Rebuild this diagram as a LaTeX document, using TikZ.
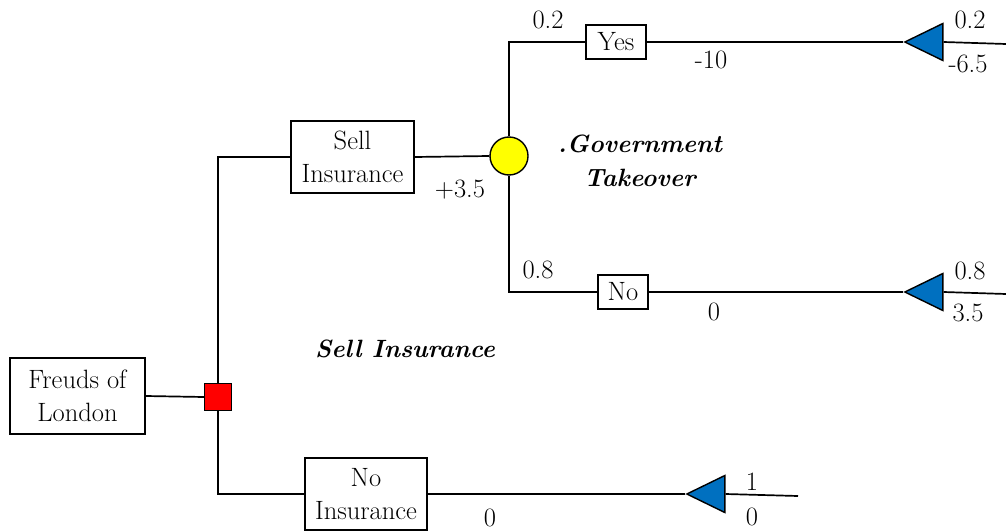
\documentclass[tikz,border=0pt]{standalone}
\usepackage{fontspec}
\usetikzlibrary{shapes.geometric}
\definecolor{triblue}{RGB}{0,112,192}
\definecolor{chanceyellow}{RGB}{255,255,0}
\definecolor{decred}{RGB}{255,0,0}
\begin{document}
\begin{tikzpicture}[x=1pt,y=-1pt,
  font=\rmfamily\fontsize{26.5}{32.5}\selectfont,
  every node/.style={inner sep=0pt},
  box/.style={draw,line width=1.4pt,align=center,fill=white},
  conn/.style={line width=1.7pt},
  lbl/.style={},
  blbl/.style={font=\rmfamily\fontsize{25}{34}\selectfont\bfseries\itshape,align=center},
  endtri/.style={draw,line width=1.4pt,fill=triblue,isosceles triangle,isosceles triangle stretches,
    shape border rotate=180,minimum width=37pt,minimum height=38pt,anchor=apex},
]
\useasboundingbox (0,0) rectangle (1006,532);
% nodes
\node[box,minimum width=135pt,minimum height=76pt] (freud) at (77.5,396) {Freuds of\\London};
\node[draw,line width=1.4pt,fill=decred,minimum size=27pt] (dec) at (218,397) {};
\node[box,minimum width=123pt,minimum height=72pt] (sell) at (352.5,157) {Sell\\Insurance};
\node[box,minimum width=122pt,minimum height=72pt] (noins) at (366,494) {No\\Insurance};
\node[draw,line width=1.4pt,circle,fill=chanceyellow,minimum size=38pt] (chance) at (509,156) {};
\node[box,minimum width=60pt,minimum height=34pt] (yes) at (616,42) {Yes};
\node[box,minimum width=50pt,minimum height=34pt] (no) at (623,292) {No};
\node[endtri] (t1) at (903,42) {};
\node[endtri] (t2) at (903,292) {};
\node[endtri] (t3) at (685,494) {};
\coordinate (e1) at (1006,44);
\coordinate (e2) at (1006,294);
\coordinate (e3) at (798,496);
% connectors
\draw[conn] (freud.east) -- (dec.west);
\draw[conn] (dec.north) |- (sell.west);
\draw[conn] (dec.south) |- (noins.west);
\draw[conn] (sell.east) -- (chance.west);
\draw[conn] (chance.north) |- (yes.west);
\draw[conn] (chance.south) |- (no.west);
\draw[conn] (yes.east) -- (t1.apex);
\draw[conn] (no.east) -- (t2.apex);
\draw[conn] (noins.east) -- (t3.apex);
\draw[conn] (t1.east) -- (e1);
\draw[conn] (t2.east) -- (e2);
\draw[conn] (t3.east) -- (e3);
% labels
\node[lbl] (p1) at (548,20) {0.2};
\node[lbl] (v1) at (711,60) {-10};
\node[lbl] (p1r) at (970,20) {0.2};
\node[lbl] (v1r) at (968,64) {-6.5};
\node[lbl] (p2) at (538,270) {0.8};
\node[lbl] (v2) at (714,312) {0};
\node[lbl] (p2r) at (970,271) {0.8};
\node[lbl] (v2r) at (968,313) {3.5};
\node[lbl] (ev) at (460,190) {+3.5};
\node[lbl] (p3) at (752,482) {1};
\node[lbl] (v3r) at (752,517) {0};
\node[lbl] (v3) at (490,518) {0};
\node[blbl] (gov) at (640,161) {.Government\\Takeover};
\node[blbl] (sellt) at (405,349) {Sell Insurance};
\end{tikzpicture}
\end{document}
